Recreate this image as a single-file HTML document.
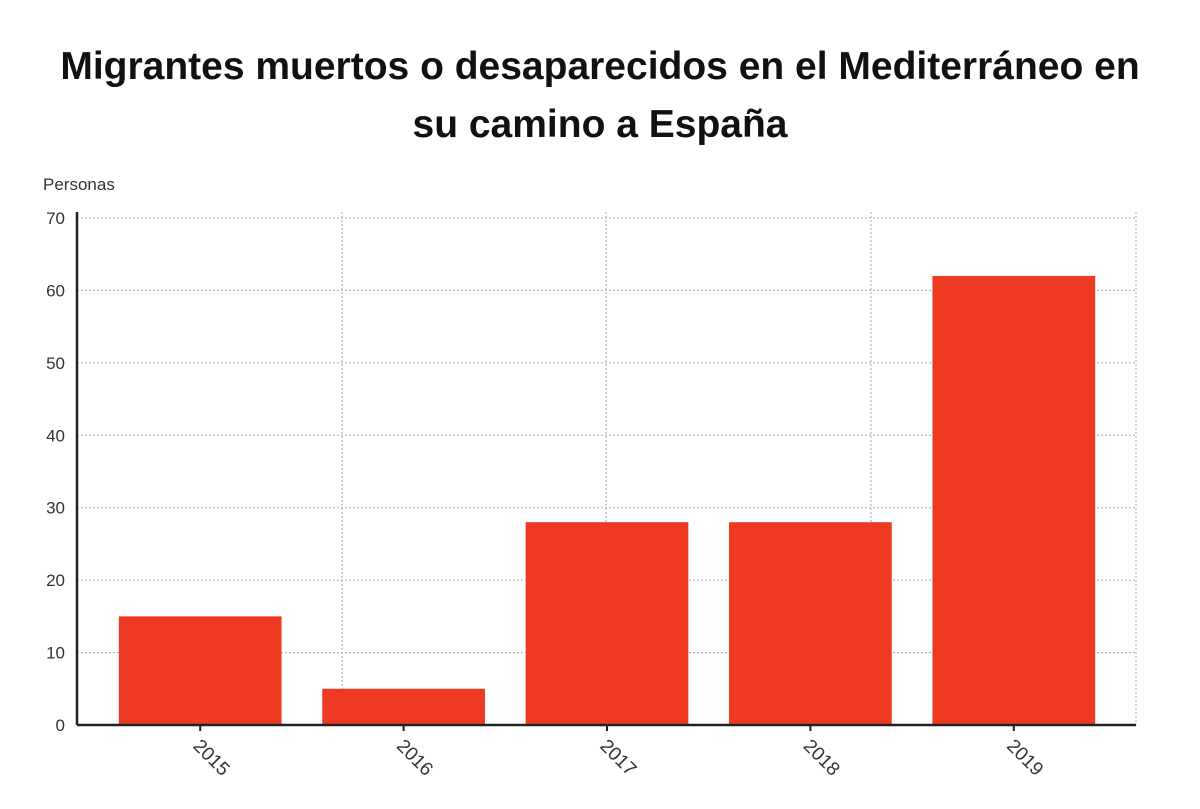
<!DOCTYPE html>
<html><head><meta charset="utf-8"><style>
body{margin:0;background:#fff;width:1200px;height:809px;overflow:hidden;font-family:"Liberation Sans",sans-serif}
h1{position:absolute;left:0;top:38px;width:1200px;margin:0;text-align:center;font-size:39px;line-height:58px;font-weight:bold;color:#111}
</style></head><body>
<h1>Migrantes muertos o desaparecidos en el Mediterráneo en<br>su camino a España</h1>
<svg id="c" width="1200" height="809" style="position:absolute;left:0;top:0">
<defs><clipPath id="cl"><rect x="0" y="0" width="1200" height="780"/></clipPath></defs>
<text x="43" y="190" font-size="17" fill="#333">Personas</text>
</svg>
<script>
const categories=["2015","2016","2017","2018","2019"];
const values=[15,5,28,28,62];
const yTicks=[0,10,20,30,40,50,60,70];
const svg=document.getElementById('c');const NS='http://www.w3.org/2000/svg';
const L=77,R=1136,T=218,B=725,yMax=70,cL=98.5,cR=1115.5;
const y=v=>B-(v/yMax)*(B-T);
const bw=(cR-cL)/categories.length;
const xc=i=>cL+bw*(i+0.5);
function mk(t,a){const e=document.createElementNS(NS,t);for(const k in a)e.setAttribute(k,a[k]);svg.appendChild(e);return e;}
yTicks.forEach(v=>{
 const g=mk('line',{x1:L,x2:R,y1:y(v),y2:y(v),stroke:'#aaa','stroke-dasharray':'2,2'});
 
 
 const t=mk('text',{x:L-12,y:y(v)+6,'text-anchor':'end','font-size':17,fill:'#333'});t.textContent=v;
 
 
});
[342,606,871,1136].forEach(x=>{
 const g=mk('line',{x1:x,x2:x,y1:212,y2:B,stroke:'#aaa','stroke-dasharray':'2,2'});
 
 
});
categories.forEach((c,i)=>{
 const r=mk('rect',{x:xc(i)-bw*0.4,width:bw*0.8,y:y(values[i]),height:B-y(values[i]),fill:'#ee3a23'});
 
 
 const tk=mk('line',{x1:xc(i),x2:xc(i),y1:B,y2:B+6,stroke:'#222','stroke-width':2});
 
 
 const t=mk('text',{x:xc(i)-8,y:B+22,'font-size':19,fill:'#333','clip-path':'url(#cl)',transform:`rotate(45 ${xc(i)-8} ${B+22})`});t.textContent=c;
 
 
});
const ax=mk('line',{x1:L,x2:R,y1:B,y2:B,stroke:'#222','stroke-width':2.5});


const ay=mk('line',{x1:L,x2:L,y1:212,y2:B,stroke:'#222','stroke-width':2.5});


</script>
</body></html>
